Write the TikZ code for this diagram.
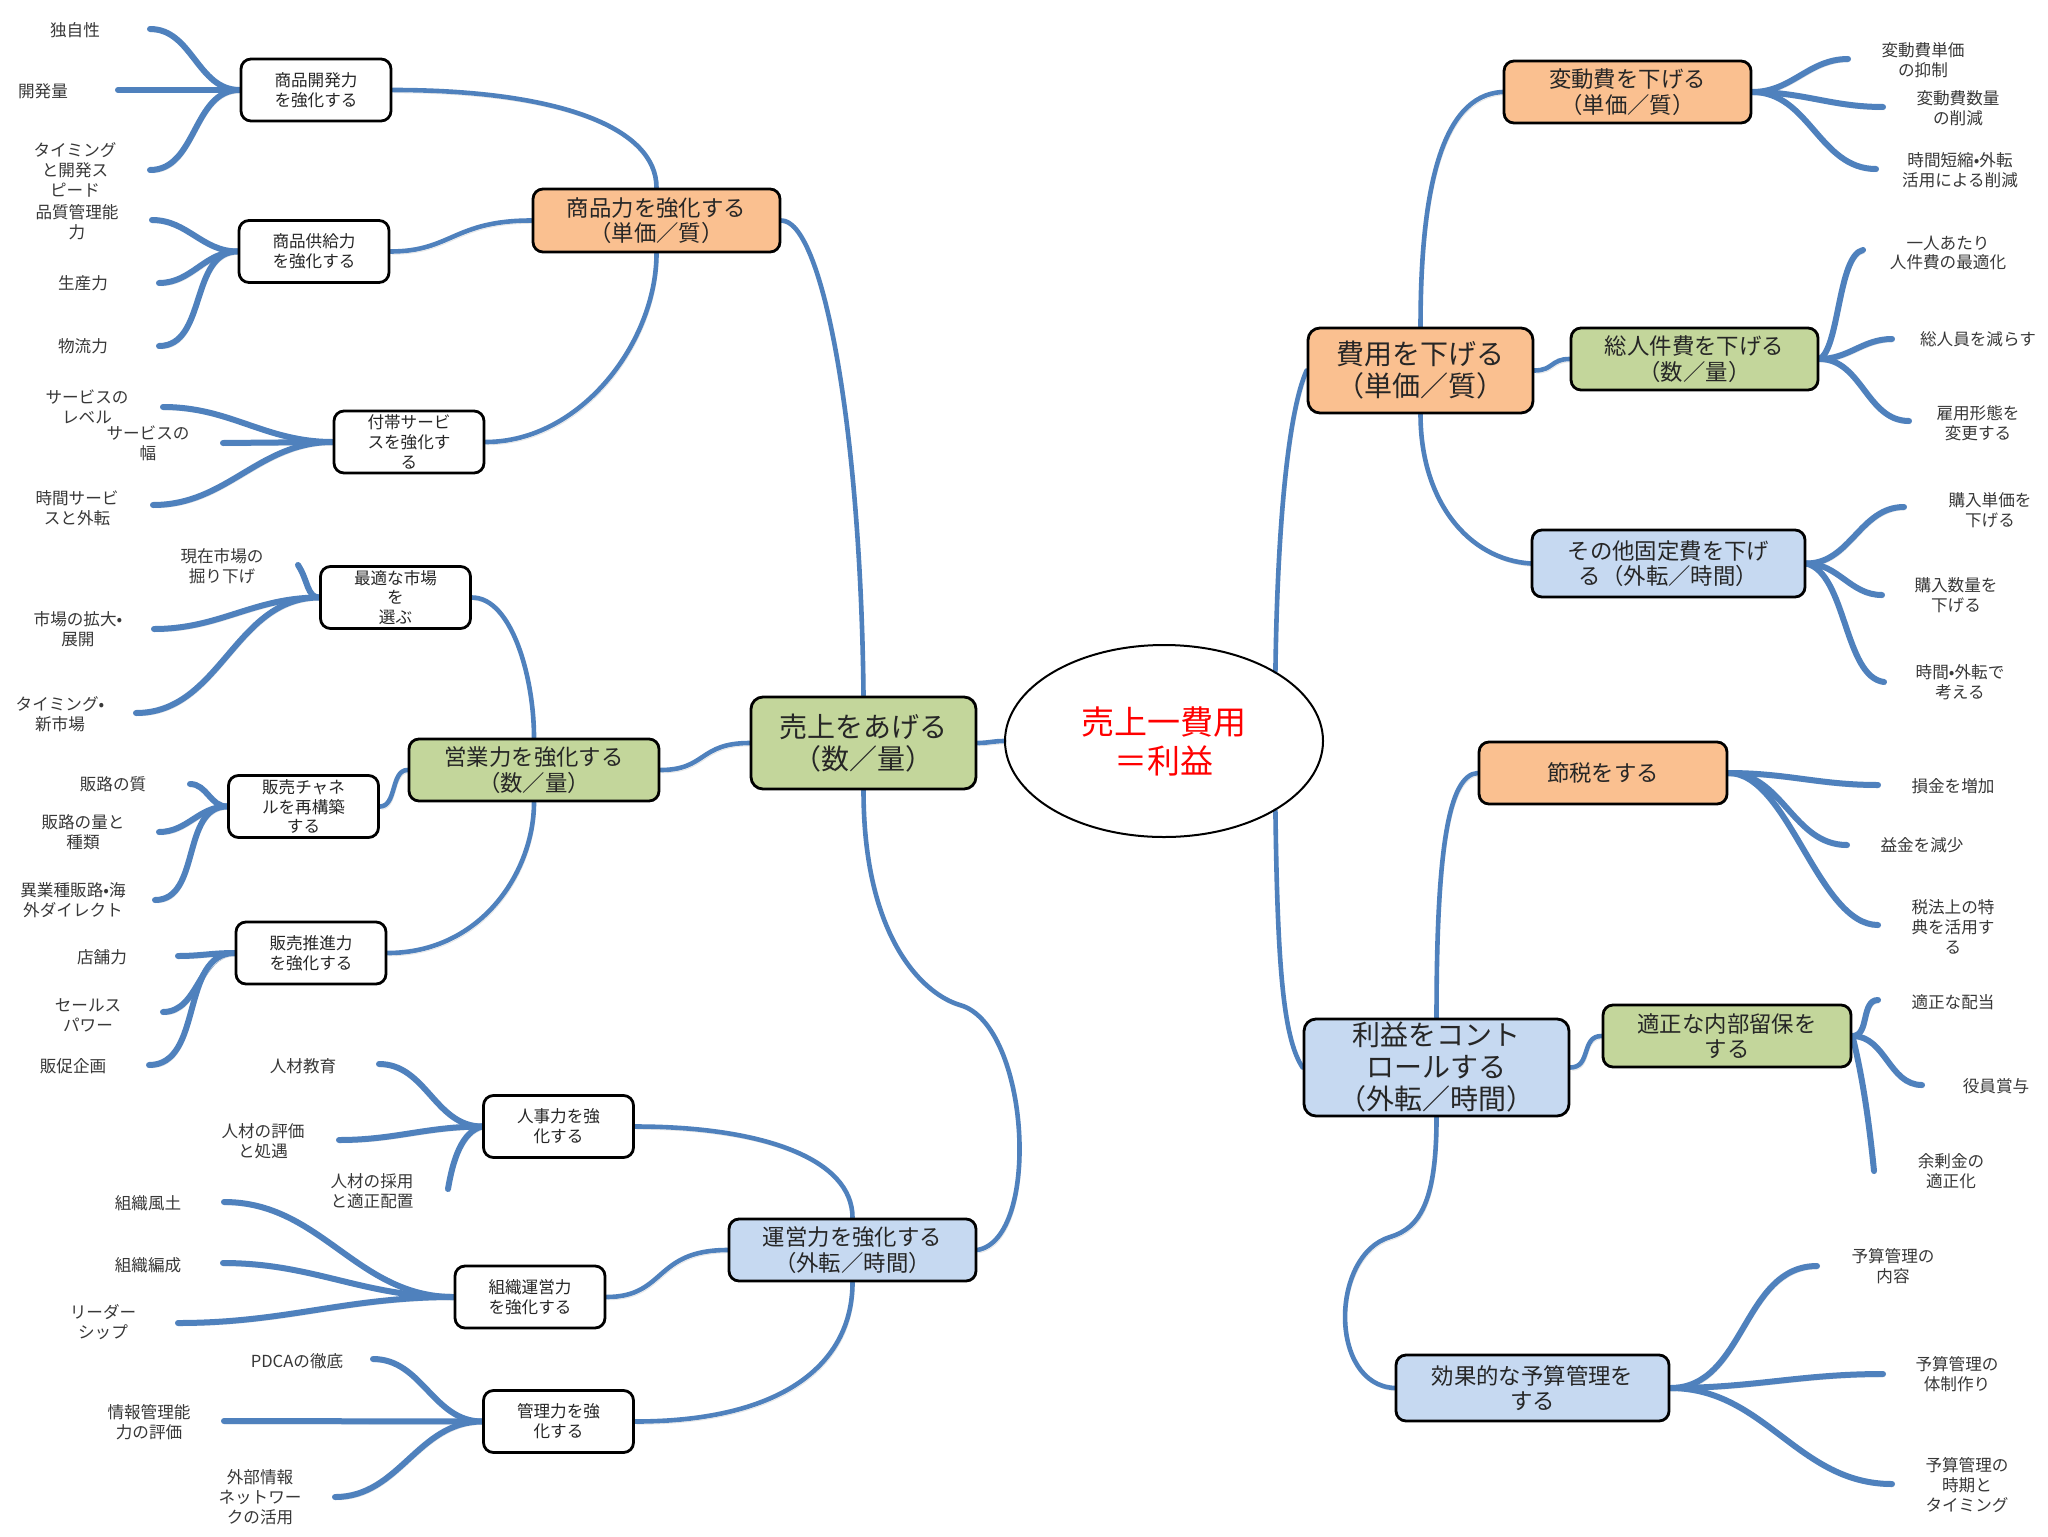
\documentclass[tikz,border=0pt]{standalone}
\usepackage{fontspec}
\setmainfont{Noto Sans CJK JP}
\usetikzlibrary{shapes.geometric}
\definecolor{lineblue}{RGB}{79,129,189}
\definecolor{forange}{RGB}{250,192,144}
\definecolor{fgreen}{RGB}{195,214,155}
\definecolor{fblue}{RGB}{198,217,241}
\pgfdeclarelayer{bg}
\pgfsetlayers{bg,main}
\begin{document}
\begin{tikzpicture}[x=0.5pt,y=-0.5pt,
  sbox/.style={draw=black, line width=1.4pt, rounded corners=5pt, fill=white,
    minimum width=75pt, minimum height=31pt, inner sep=0pt, align=center,
    font=\fontsize{8.3}{9.9}\selectfont, text=black!85},
  mbox/.style={draw=black, line width=1.4pt, rounded corners=5pt, inner sep=0pt,
    align=center, font=\fontsize{11.2}{12.8}\selectfont, text=black!85},
  lbox/.style={draw=black, line width=1.4pt, rounded corners=6pt, inner sep=0pt,
    align=center, font=\fontsize{14}{16}\selectfont, text=black!85},
  leaftext/.style={align=center, font=\fontsize{8.3}{9.9}\selectfont, text=black!78, inner sep=0pt},
  conn/.style={draw=lineblue, line width=2.3pt, line cap=round,
    preaction={draw=black!10, transform canvas={shift={(0.8pt,-1.4pt)}}}},
  leaf/.style={draw=lineblue, line width=3pt, line cap=round,
    preaction={draw=black!10, transform canvas={shift={(0.8pt,-1.4pt)}}}},
]
\useasboundingbox (0,0) rectangle (2048,1536);

% ---------- central ----------
\node[ellipse, draw=black, line width=1pt, minimum width=159pt, minimum height=96pt,
  inner sep=0pt, align=center, text=red, font=\fontsize{16.5}{19.5}\selectfont]
  (ell) at (1164,741) {売上一費用\\＝利益};

% ---------- large boxes ----------
\node[lbox, fill=fgreen, minimum width=112.5pt, minimum height=46pt] (uriage) at (863.5,743) {売上をあげる\\（数／量）};
\node[lbox, fill=forange, minimum width=112.5pt, minimum height=42.5pt] (hiyo) at (1420.5,370.5) {費用を下げる\\（単価／質）};
\node[lbox, fill=fblue, minimum width=132.5pt, minimum height=48.5pt] (rieki) at (1436.5,1067.5) {利益をコント\\ロールする\\（外転／時間）};

% ---------- middle boxes ----------
\node[mbox, fill=forange, minimum width=123.5pt, minimum height=31.5pt] (shohin) at (656.5,220.5) {商品力を強化する\\（単価／質）};
\node[mbox, fill=fgreen, minimum width=125pt, minimum height=31pt] (eigyo) at (534,770) {営業力を強化する\\（数／量）};
\node[mbox, fill=fblue, minimum width=123.5pt, minimum height=31pt] (unei) at (852.5,1250) {運営力を強化する\\（外転／時間）};
\node[mbox, fill=forange, minimum width=123.5pt, minimum height=31pt] (hendo) at (1627.5,92) {変動費を下げる\\（単価／質）};
\node[mbox, fill=fgreen, minimum width=123.5pt, minimum height=31pt] (jinken) at (1694.5,359) {総人件費を下げる\\（数／量）};
\node[mbox, fill=fblue, minimum width=136.5pt, minimum height=33.5pt] (kotei) at (1668.5,563.5) {その他固定費を下げ\\る（外転／時間）};
\node[mbox, fill=forange, minimum width=124pt, minimum height=31pt] (setsuzei) at (1603,773) {節税をする};
\node[mbox, fill=fgreen, minimum width=124pt, minimum height=31pt] (ryuho) at (1727,1036) {適正な内部留保を\\する};
\node[mbox, fill=fblue, minimum width=136.5pt, minimum height=33pt] (yosan) at (1532.5,1388) {効果的な予算管理を\\する};

% ---------- small boxes ----------
\node[sbox] (kaihatsu) at (316,90) {商品開発力\\を強化する};
\node[sbox] (kyokyu) at (314,251.5) {商品供給力\\を強化する};
\node[sbox] (futai) at (409,442) {付帯サービ\\スを強化す\\る};
\node[sbox] (shijo) at (395.5,597.5) {最適な市場\\を\\選ぶ};
\node[sbox] (channel) at (303.5,806.5) {販売チャネ\\ルを再構築\\する};
\node[sbox] (suishin) at (311,953) {販売推進力\\を強化する};
\node[sbox] (jinji) at (558.5,1126.5) {人事力を強\\化する};
\node[sbox] (soshiki) at (530,1297) {組織運営力\\を強化する};
\node[sbox] (kanri) at (558.5,1421.5) {管理力を強\\化する};

% ---------- left leaf texts ----------
\node[leaftext] (t1) at (75,30) {独自性};
\node[leaftext] (t2) at (43,91) {開発量};
\node[leaftext] (t3) at (75,170) {タイミング\\と開発ス\\ピード};
\node[leaftext] (t4) at (77,222) {品質管理能\\力};
\node[leaftext] (t5) at (83,283) {生産力};
\node[leaftext] (t6) at (83,346) {物流力};
\node[leaftext] (t7) at (87,407) {サービスの\\レベル};
\node[leaftext] (t8) at (148,443) {サービスの\\幅};
\node[leaftext] (t9) at (77,508) {時間サービ\\スと外転};
\node[leaftext] (t10) at (222,566) {現在市場の\\掘り下げ};
\node[leaftext] (t11) at (78,629) {市場の拡大•\\展開};
\node[leaftext] (t12) at (60,714) {タイミング•\\新市場};
\node[leaftext] (t13) at (113,784) {販路の質};
\node[leaftext] (t14) at (83,832) {販路の量と\\種類};
\node[leaftext] (t15) at (73,900) {異業種販路•海\\外ダイレクト};
\node[leaftext] (t16) at (102,957) {店舗力};
\node[leaftext] (t17) at (88,1015) {セールス\\パワー};
\node[leaftext] (t18) at (73,1066) {販促企画};
\node[leaftext] (t19) at (303,1066) {人材教育};
\node[leaftext] (t20) at (263,1141) {人材の評価\\と処遇};
\node[leaftext] (t21) at (372,1191) {人材の採用\\と適正配置};
\node[leaftext] (t22) at (148,1203) {組織風土};
\node[leaftext] (t23) at (148,1265) {組織編成};
\node[leaftext] (t24) at (103,1322) {リーダー\\シップ};
\node[leaftext] (t25) at (297,1361) {PDCAの徹底};
\node[leaftext] (t26) at (149,1422) {情報管理能\\力の評価};
\node[leaftext] (t27) at (260,1497) {外部情報\\ネットワー\\クの活用};

% ---------- right leaf texts ----------
\node[leaftext] (r1) at (1923,60) {変動費単価\\の抑制};
\node[leaftext] (r2) at (1958,108) {変動費数量\\の削減};
\node[leaftext] (r3) at (1960,170) {時間短縮•外転\\活用による削減};
\node[leaftext] (r4) at (1948,253) {一人あたり\\人件費の最適化};
\node[leaftext] (r5) at (1978,339) {総人員を減らす};
\node[leaftext] (r6) at (1978,423) {雇用形態を\\変更する};
\node[leaftext] (r7) at (1990,510) {購入単価を\\下げる};
\node[leaftext] (r8) at (1956,595) {購入数量を\\下げる};
\node[leaftext] (r9) at (1960,682) {時間•外転で\\考える};
\node[leaftext] (r10) at (1953,786) {損金を増加};
\node[leaftext] (r11) at (1922,845) {益金を減少};
\node[leaftext] (r12) at (1953,927) {税法上の特\\典を活用す\\る};
\node[leaftext] (r13) at (1953,1002) {適正な配当};
\node[leaftext] (r14) at (1996,1086) {役員賞与};
\node[leaftext] (r15) at (1951,1171) {余剰金の\\適正化};
\node[leaftext] (r16) at (1893,1266) {予算管理の\\内容};
\node[leaftext] (r17) at (1957,1374) {予算管理の\\体制作り};
\node[leaftext] (r18) at (1967,1485) {予算管理の\\時期と\\タイミング};

% ---------- leaf line ends ----------
\coordinate (e1) at (150,29);
\coordinate (e2) at (118,90);
\coordinate (e3) at (150,170);
\coordinate (e4) at (152,220);
\coordinate (e5) at (159,283);
\coordinate (e6) at (159,346);
\coordinate (e7) at (163,407);
\coordinate (e8) at (223,443);
\coordinate (e9) at (153,505);
\coordinate (e10) at (298,565);
\coordinate (e11) at (154,629);
\coordinate (e12) at (136,713);
\coordinate (e13) at (190,784);
\coordinate (e14) at (159,832);
\coordinate (e15) at (155,900);
\coordinate (e16) at (178,956);
\coordinate (e17) at (163,1012);
\coordinate (e18) at (149,1065);
\coordinate (e19) at (379,1064);
\coordinate (e20) at (339,1140);
\coordinate (e21) at (448,1189);
\coordinate (e22) at (224,1202);
\coordinate (e23) at (223,1263);
\coordinate (e24) at (178,1323);
\coordinate (e25) at (373,1359);
\coordinate (e26) at (224,1421);
\coordinate (e27) at (335,1497);
\coordinate (f1) at (1848,59);
\coordinate (f2) at (1883,107);
\coordinate (f3) at (1876,169);
\coordinate (f4) at (1863,250);
\coordinate (f5) at (1892,339);
\coordinate (f6) at (1909,421);
\coordinate (f7) at (1904,507);
\coordinate (f8) at (1882,595);
\coordinate (f9) at (1884,682);
\coordinate (f10) at (1878,785);
\coordinate (f11) at (1847,845);
\coordinate (f12) at (1878,925);
\coordinate (f13) at (1878,1000);
\coordinate (f14) at (1922,1085);
\coordinate (f15) at (1874,1171);
\coordinate (f16) at (1817,1266);
\coordinate (f17) at (1883,1374);
\coordinate (f18) at (1892,1484);
\coordinate (ub) at (960,1005);
\coordinate (yb) at (1390,1237);

\begin{pgfonlayer}{bg}
\fill[white] (0,0) rectangle (2048,1536);
% main connectors (left)
\draw[conn] (kaihatsu.east) .. controls +(169,0) and +(0,-59) .. (shohin.north);
\draw[conn] (kyokyu.east) .. controls +(61,0) and +(-78,0) .. (shohin.west);
\draw[conn] (futai.east) .. controls +(96,0) and +(0,88) .. (shohin.south);
\draw[conn] (shohin.east) .. controls +(40,0) and +(-3,-277) .. (uriage.north);
\draw[conn] (shijo.east) .. controls +(40,0) and +(0,-60) .. (eigyo.north);
\draw[conn] (channel.east) .. controls +(17,0) and +(-17,0) .. (eigyo.west);
\draw[conn] (suishin.east) .. controls +(94,0) and +(0,69) .. (eigyo.south);
\draw[conn] (eigyo.east) .. controls +(46,0) and +(-51,0) .. (uriage.west);
\draw[conn] (uriage.east) to[out=0,in=180] (ell.west);
\draw[conn] (uriage.south) .. controls +(0,150) and +(-35,-10) .. (ub)
                           .. controls +(70,20) and +(64,-11) .. (unei.east);
\draw[conn] (jinji.east) .. controls +(127,0) and +(0,-59) .. (unei.north);
\draw[conn] (soshiki.east) .. controls +(60,0) and +(-74,0) .. (unei.west);
\draw[conn] (kanri.east) .. controls +(150,0) and +(0,80) .. (unei.south);
% main connectors (right)
\draw[conn] (ell.32) .. controls +(2,-150) and +(-18,40) .. (hiyo.west);
\draw[conn] (ell.-32) .. controls +(2,150) and +(-20,-30) .. (rieki.west);
\draw[conn] (hiyo.north) .. controls +(0,-128) and +(-64,3) .. (hendo.west);
\draw[conn] (hiyo.east) .. controls +(19,0) and +(-19,0) .. (jinken.west);
\draw[conn] (hiyo.south) .. controls +(0,87) and +(-62,-4) .. (kotei.west);
\draw[conn] (setsuzei.west) .. controls +(-29,2) and +(0,-169) .. (rieki.north);
\draw[conn] (rieki.east) .. controls +(21,0) and +(-21,0) .. (ryuho.west);
\draw[conn] (rieki.south) .. controls +(0,84) and +(30,-9) .. (yb)
                          .. controls +(-60,18) and +(-66,-3) .. (yosan.west);
% left leaves
\draw[leaf] (kaihatsu.west) to[out=180,in=0] (e1);
\draw[leaf] (kaihatsu.west) -- (e2);
\draw[leaf] (kaihatsu.west) to[out=180,in=0] (e3);
\draw[leaf] (kyokyu.west) to[out=180,in=0] (e4);
\draw[leaf] (kyokyu.west) to[out=180,in=0] (e5);
\draw[leaf] (kyokyu.west) to[out=180,in=0] (e6);
\draw[leaf] (futai.west) to[out=180,in=0] (e7);
\draw[leaf] (futai.west) -- (e8);
\draw[leaf] (futai.west) to[out=180,in=0] (e9);
\draw[leaf] (shijo.west) .. controls +(-12,0) and +(10,15) .. (e10);
\draw[leaf] (shijo.west) to[out=180,in=0] (e11);
\draw[leaf] (shijo.west) to[out=180,in=0] (e12);
\draw[leaf] (channel.west) to[out=180,in=0] (e13);
\draw[leaf] (channel.west) to[out=180,in=0] (e14);
\draw[leaf] (channel.west) to[out=180,in=0] (e15);
\draw[leaf] (suishin.west) to[out=180,in=0] (e16);
\draw[leaf] (suishin.west) to[out=180,in=0] (e17);
\draw[leaf] (suishin.west) to[out=180,in=0] (e18);
\draw[leaf] (jinji.west) to[out=180,in=0] (e19);
\draw[leaf] (jinji.west) to[out=180,in=0] (e20);
\draw[leaf] (jinji.west) .. controls +(-20,5) and +(5,-30) .. (e21);
\draw[leaf] (soshiki.west) to[out=180,in=0] (e22);
\draw[leaf] (soshiki.west) to[out=180,in=0] (e23);
\draw[leaf] (soshiki.west) to[out=180,in=0] (e24);
\draw[leaf] (kanri.west) to[out=180,in=0] (e25);
\draw[leaf] (kanri.west) -- (e26);
\draw[leaf] (kanri.west) to[out=180,in=0] (e27);
% right leaves
\draw[leaf] (hendo.east) to[out=0,in=180] (f1);
\draw[leaf] (hendo.east) to[out=0,in=180] (f2);
\draw[leaf] (hendo.east) to[out=0,in=180] (f3);
\draw[leaf] (jinken.east) .. controls +(20,-10) and +(-25,5) .. (f4);
\draw[leaf] (jinken.east) to[out=0,in=180] (f5);
\draw[leaf] (jinken.east) to[out=0,in=180] (f6);
\draw[leaf] (kotei.east) to[out=0,in=180] (f7);
\draw[leaf] (kotei.east) to[out=0,in=180] (f8);
\draw[leaf] (kotei.east) .. controls +(40,10) and +(-40,-5) .. (f9);
\draw[leaf] (setsuzei.east) to[out=0,in=180] (f10);
\draw[leaf] (setsuzei.east) to[out=0,in=180] (f11);
\draw[leaf] (setsuzei.east) .. controls +(60,0) and +(-60,0) .. (f12);
\draw[leaf] (ryuho.east) to[out=0,in=180] (f13);
\draw[leaf] (ryuho.east) to[out=0,in=180] (f14);
\draw[leaf] (ryuho.east) .. controls +(10,40) and +(-5,-50) .. (f15);
\draw[leaf] (yosan.east) to[out=0,in=180] (f16);
\draw[leaf] (yosan.east) to[out=0,in=180] (f17);
\draw[leaf] (yosan.east) to[out=0,in=180] (f18);
\end{pgfonlayer}
\end{tikzpicture}
\end{document}
